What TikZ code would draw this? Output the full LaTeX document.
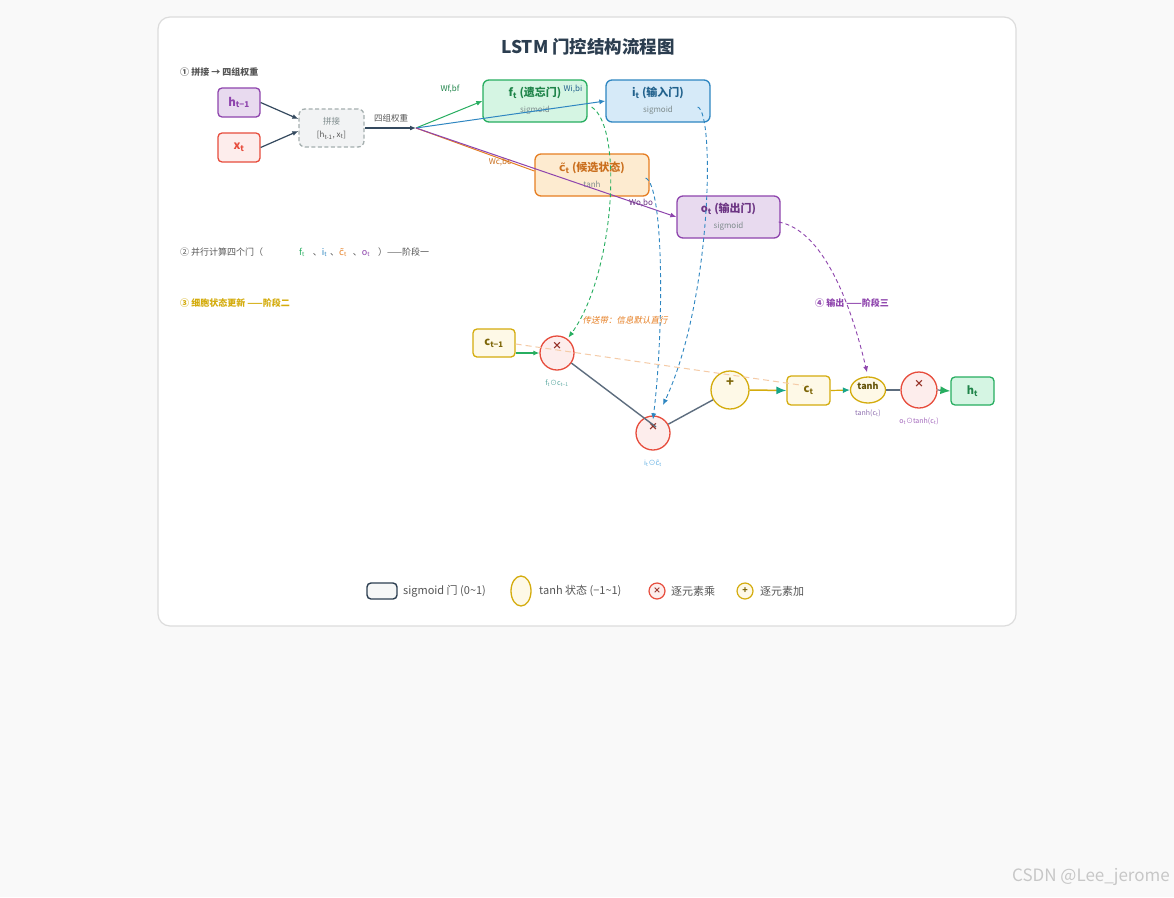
\documentclass[tikz,border=0pt]{standalone}
\usepackage{fontspec}
\setmainfont{Noto Sans CJK SC}
\newfontfamily\cjkit{Noto Sans CJK SC}[FakeSlant=0.2]
\newfontfamily\djv{DejaVu Sans}
\usetikzlibrary{arrows.meta,calc,shapes.geometric}
\definecolor{pagebg}{HTML}{F9F9F9}
\definecolor{cardline}{HTML}{DCDCDC}
\definecolor{cgreen}{HTML}{27AE60}
\definecolor{tgreen}{HTML}{1E8449}
\definecolor{fgreen}{HTML}{D5F5E3}
\definecolor{cblue}{HTML}{2E86C1}
\definecolor{tblue}{HTML}{21618C}
\definecolor{fblue}{HTML}{D6EAF8}
\definecolor{corange}{HTML}{E67E22}
\definecolor{torange}{HTML}{CA6F1E}
\definecolor{forange}{HTML}{FDEBD0}
\definecolor{cpurple}{HTML}{8E44AD}
\definecolor{tpurple}{HTML}{6C3483}
\definecolor{fpurple}{HTML}{E8DAEF}
\definecolor{cred}{HTML}{E74C3C}
\definecolor{tred}{HTML}{922B21}
\definecolor{fred}{HTML}{FDEDEC}
\definecolor{cgold}{HTML}{D4AC0D}
\definecolor{tgold}{HTML}{7D6608}
\definecolor{fgold}{HTML}{FEF9E7}
\definecolor{cdark}{HTML}{34495E}
\definecolor{ctitle}{HTML}{2C3E50}
\definecolor{cline}{HTML}{5D6D7E}
\definecolor{cgray}{HTML}{7F8C8D}
\definecolor{tgray}{HTML}{555555}
\definecolor{fgray}{HTML}{F2F3F4}
\definecolor{cteal}{HTML}{17A589}
\definecolor{cpeach}{HTML}{F5CBA7}
\definecolor{lteal}{HTML}{5AA8A0}
\definecolor{lblue}{HTML}{5DADE2}
\definecolor{lpurple}{HTML}{8E6FAF}
\newcommand\fsz[1]{\fontsize{#1}{#1}\selectfont}
\newcommand\sbs[1]{\textsubscript{#1}}
\newcommand\ctil{{\djv c\char"0303}}
\begin{document}
\begin{tikzpicture}[x=1pt,y=-1pt,
  box/.style={draw, rounded corners=4pt, line width=1.3pt, inner sep=0pt},
  gate/.style={box, minimum width=104pt, minimum height=42pt, rounded corners=6pt, align=center},
  circ/.style={circle, draw, line width=1.3pt, inner sep=0pt},
  arr/.style={-{Latex[length=6pt,width=5pt]}},
  dashflow/.style={dashed, dash pattern=on 4pt off 3pt, line width=0.9pt},
  lbl/.style={font=\fsz{8}, inner sep=0pt},
  small/.style={font=\fsz{7}, inner sep=0pt},
]
\fill[pagebg] (0,0) rectangle (1174,897);
\useasboundingbox (0,0) rectangle (1174,897);
\draw[cardline, fill=white, rounded corners=12pt, line width=1.2pt] (158,17) rectangle (1016,626);

% title
\node[font=\fsz{17.5}\bfseries, text=ctitle] (title) at (588,47) {LSTM 门控结构流程图};

% section labels
\node[lbl, anchor=west, text=tgray, font=\fsz{9}\bfseries] (s1) at (180,72) {① 拼接 → 四组权重};
\node[lbl, anchor=west, text=tgray, font=\fsz{9}] (s2) at (180,252) {② 并行计算四个门（\hspace{36pt}{\color{cgreen}f\sbs{t}}\hspace{8pt}、{\color{cblue}i\sbs{t}}\hspace{3pt}、{\color{corange}\ctil\sbs{t}}\hspace{6pt}、{\color{cpurple}o\sbs{t}}\hspace{8pt}）——阶段一};
\node[lbl, anchor=west, text=cgold, font=\fsz{9}\bfseries] (s3) at (180,303) {③ 细胞状态更新 ——阶段二};
\node[lbl, anchor=west, text=cpurple, font=\fsz{9}\bfseries] (s4) at (815,303) {④ 输出 ——阶段三};

% inputs
\node[box, draw=cpurple, fill=fpurple, minimum width=42pt, minimum height=29pt, text=cpurple, font=\fsz{11.5}\bfseries] (h) at (239,102.5) {h\sbs{t−1}};
\node[box, draw=cred, fill=fred, minimum width=42pt, minimum height=29pt, text=cred, font=\fsz{11.5}\bfseries] (x) at (239,147.5) {x\sbs{t}};
\node[box, draw=cgray!70, fill=fgray, dashed, dash pattern=on 4pt off 2.5pt, minimum width=65pt, minimum height=38pt, rounded corners=6pt, text=cgray, align=center, font=\fsz{8.5}] (cat) at (331.5,128) {拼接\\[5pt]{\fsz{8}\color{tgray}[h\sbs{t-1}, x\sbs{t}]}};
\coordinate (sp) at (416,128);

\draw[arr, cdark, line width=1.2pt] (h.east) -- ($(cat.west)+(0,-9)$);
\draw[arr, cdark, line width=1.2pt] (x.east) -- ($(cat.west)+(0,3)$);
\draw[arr, cdark, line width=1.4pt] (cat.east) -- (sp);
\node[lbl, text=tgray, font=\fsz{8.5}] (wlbl) at (391,118) {四组权重};

% gates
\node[gate, draw=cgreen, fill=fgreen] (f) at (535,101) {{\fsz{11}\bfseries\color{tgreen}f\sbs{t} (遗忘门)}\\[4pt]{\fsz{8}\color{cgray}sigmoid}};
\node[gate, draw=cblue, fill=fblue] (i) at (658,101) {{\fsz{11}\bfseries\color{tblue}i\sbs{t} (输入门)}\\[4pt]{\fsz{8}\color{cgray}sigmoid}};
\node[gate, draw=corange, fill=forange, minimum width=114pt] (c) at (592,175) {{\fsz{11}\bfseries\color{torange}\ctil\sbs{t} (候选状态)}\\[4pt]{\fsz{8}\color{cgray}tanh}};
\node[gate, draw=cpurple, fill=fpurple, minimum width=103pt] (o) at (728.5,217) {{\fsz{11}\bfseries\color{tpurple}o\sbs{t} (输出门)}\\[4pt]{\fsz{8}\color{cgray}sigmoid}};

% weight lines
\draw[arr, cgreen, line width=1pt] (sp) -- (f.west);
\draw[arr, cblue, line width=1pt] (sp) -- (i.west);
\draw[corange, line width=1pt] (sp) -- ($(c.west)+(0,-4)$);
\draw[arr, cpurple, line width=1pt] (sp) -- (o.west);
\node[lbl, text=tgreen] (wf) at (450,89) {Wf,bf};
\node[lbl, text=tblue] (wi) at (573,89) {Wi,bi};
\node[lbl, text=torange] (wc) at (500,162) {Wc,bc};
\node[lbl, text=tpurple] (wo) at (641,203) {Wo,bo};

% cell state nodes
\node[box, draw=cgold, fill=fgold, minimum width=42pt, minimum height=28pt, text=tgold, font=\fsz{11}\bfseries] (cp) at (494,343) {c\sbs{t−1}};
\node[circ, draw=cred, fill=fred, minimum size=34pt] (m1) at (557,353) {};
\node[font=\fsz{10}\bfseries, text=tred, inner sep=0pt] (m1x) at (557,346) {×};
\node[circ, draw=cred, fill=fred, minimum size=34pt] (m2) at (653,433) {};
\node[font=\fsz{10}\bfseries, text=tred, inner sep=0pt] (m2x) at (653,427) {×};
\node[circ, draw=cgold, fill=fgold, minimum size=38pt] (pl) at (730,390) {};
\node[font=\fsz{13}\bfseries, text=tgold, inner sep=0pt] (plx) at (730,382) {+};
\node[box, draw=cgold, fill=fgold, minimum width=43pt, minimum height=29pt, text=tgold, font=\fsz{11}\bfseries] (ct) at (808.5,390.5) {c\sbs{t}};
\node[ellipse, draw=cgold, fill=fgold, line width=1.3pt, minimum width=35pt, minimum height=26pt, inner sep=0pt] (th) at (868,390) {};
\node[font=\fsz{9}\bfseries, text=tgold!80!black, inner sep=0pt] (thx) at (868,386) {tanh};
\node[circ, draw=cred, fill=fred, minimum size=36pt] (m3) at (919,390) {};
\node[font=\fsz{10}\bfseries, text=tred, inner sep=0pt] (m3x) at (919,384) {×};
\node[box, draw=cgreen, fill=fgreen, minimum width=43pt, minimum height=28pt, text=tgreen, font=\fsz{11}\bfseries] (ht) at (972.5,391) {h\sbs{t}};

% small labels
\node[small, text=lteal] (l1) at (557,383) {f\sbs{t}⊙c\sbs{t−1}};
\node[small, text=lblue] (l2) at (653,463) {i\sbs{t}⊙\ctil\sbs{t}};
\node[small, text=lpurple] (l3) at (868,413) {tanh(c\sbs{t})};
\node[small, text=cpurple!80] (l4) at (919,421) {o\sbs{t}⊙tanh(c\sbs{t})};

% cell connectors
\draw[arr, cgreen, line width=1.2pt] (cp.east |- m1) -- (m1.west);
\draw[cline, line width=1.4pt] (m1.-35) -- ($(m2.center)+(3,-6)$);
\draw[cline, line width=1.4pt] (m2.30) -- (pl.-150);
\draw[cgold, line width=1.5pt, -{Latex[length=10pt,width=8pt,color=cteal]}] (pl.east) -- (ct.west);
\draw[cgold, line width=1.2pt, -{Latex[length=7pt,width=6pt,color=cteal]}] (ct.east) -- (th.west);
\draw[cline, line width=1.2pt] (th.east) -- (m3.west);
\draw[cline, line width=1.2pt, -{Latex[length=10pt,width=8pt,color=cgreen]}] (m3.east) -- (ht.west);

% dashed control flows
\draw[dashflow, cgreen, arr] ($(f.east)+(4,6)$) .. controls (624,128) and (614,275) .. ($(m1.north east)+(-1,-3)$);
\draw[dashflow, cblue, arr] ($(i.east)+(-13,6)$) .. controls (715,112) and (712,300) .. (663,405);
\draw[dashflow, cblue, arr] ($(c.east)+(-4,3)$) .. controls (664,186) and (664,330) .. ($(m2.north)+(0,4)$);
\draw[dashflow, cpurple, arr] ($(o.east)+(-2,5)$) .. controls (822,230) and (850,300) .. ($(th.north)+(-1,-4)$);

\node[font=\fsz{8.5}\cjkit, text=corange, inner sep=0pt] (belt) at (625,320) {传送带：信息默认直行};
\draw[cpeach, dashed, dash pattern=on 6pt off 4pt, line width=1pt] ($(cp.east)+(0,1)$) -- ($(ct.center)+(-5,-5)$);

% legend
\node[box, draw=ctitle, fill=fgray!70!white, minimum width=30pt, minimum height=16pt, line width=1.4pt] (lg1) at (382,591) {};
\node[anchor=west, font=\fsz{11}, text=tgray, inner sep=0pt] (lg1t) at (403,591) {sigmoid 门 (0\textasciitilde1)};
\node[ellipse, draw=cgold, fill=fgold, line width=1.3pt, minimum width=20pt, minimum height=30pt, inner sep=0pt] (lg2) at (521,591) {};
\node[anchor=west, font=\fsz{11}, text=tgray, inner sep=0pt] (lg2t) at (539,591) {tanh 状态 (−1\textasciitilde1)};
\node[circ, draw=cred, fill=fred, minimum size=16pt, line width=1.2pt, font=\fsz{8}\bfseries, text=tred] (lg3) at (657,591) {×};
\node[anchor=west, font=\fsz{11}, text=tgray, inner sep=0pt] (lg3t) at (671,591) {逐元素乘};
\node[circ, draw=cgold, fill=fgold, minimum size=16pt, line width=1.2pt, font=\fsz{9}\bfseries, text=tgold] (lg4) at (745,591) {+};
\node[anchor=west, font=\fsz{11}, text=tgray, inner sep=0pt] (lg4t) at (760,591) {逐元素加};

% watermark
\node[anchor=east, font=\fsz{17}, text=black!22, inner sep=0pt] (wm) at (1170,877) {CSDN @Lee\_jerome};
\end{tikzpicture}
\end{document}
